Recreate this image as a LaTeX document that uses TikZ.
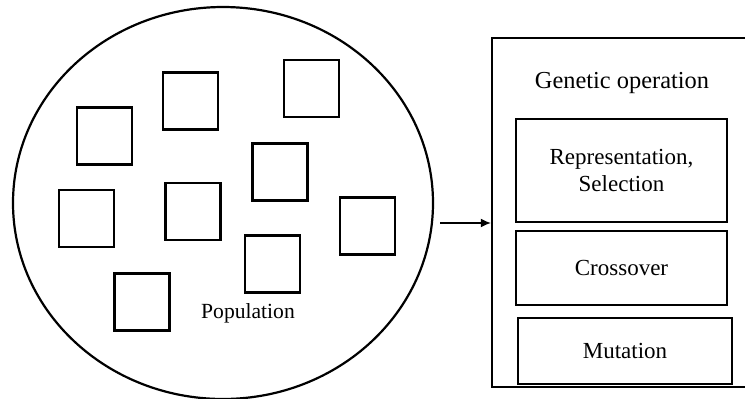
\documentclass[tikz,border=0pt]{standalone}
\usepackage{fontspec}
\setmainfont{Liberation Serif}
\usetikzlibrary{shapes.geometric,arrows.meta}

\begin{document}
\begin{tikzpicture}[x=0.5pt,y=-0.5pt,line width=1.1pt,
  indiv/.style={draw,minimum width=27.5pt,minimum height=28.5pt,inner sep=0pt},
  opbox/.style={draw,align=center,inner sep=0pt,font=\fontsize{11.5}{13.5}\selectfont}]
\useasboundingbox (0,0) rectangle (745,398);
\clip (0,0) rectangle (745,398);
% population
\node[draw,ellipse,minimum width=210pt,minimum height=196pt,inner sep=0pt] (pop) at (223,203) {};
\foreach \x/\y [count=\i] in {104.5/136,190.5/101,311.5/88.5,280/172,86.5/218.5,193/211.5,367.5/226,272.5/264,142/302}
  \node[indiv] (ind\i) at (\x,\y) {};
\node[font=\fontsize{10.8}{13}\selectfont] (poplabel) at (248,313) {Population};
% genetic operations
\node[draw,minimum width=134pt,minimum height=174.5pt,inner sep=0pt] (ops) at (626,212.5) {};
\node[font=\fontsize{12.2}{14}\selectfont] (title) at (622,83) {Genetic operation};
\node[opbox,minimum width=105.5pt,minimum height=51.5pt] (select) at (621.5,170.5) {Representation,\\Selection};
\node[opbox,minimum width=105.5pt,minimum height=37pt] (cross) at (621.5,268) {Crossover};
\node[opbox,minimum width=107pt,minimum height=33pt] (mutate) at (625,351) {Mutation};
\coordinate (start) at (440,223);
\draw[line width=0.8pt,-{Latex[length=5pt,width=4.5pt]}] (start) -- (start -| ops.west);
\end{tikzpicture}
\end{document}
